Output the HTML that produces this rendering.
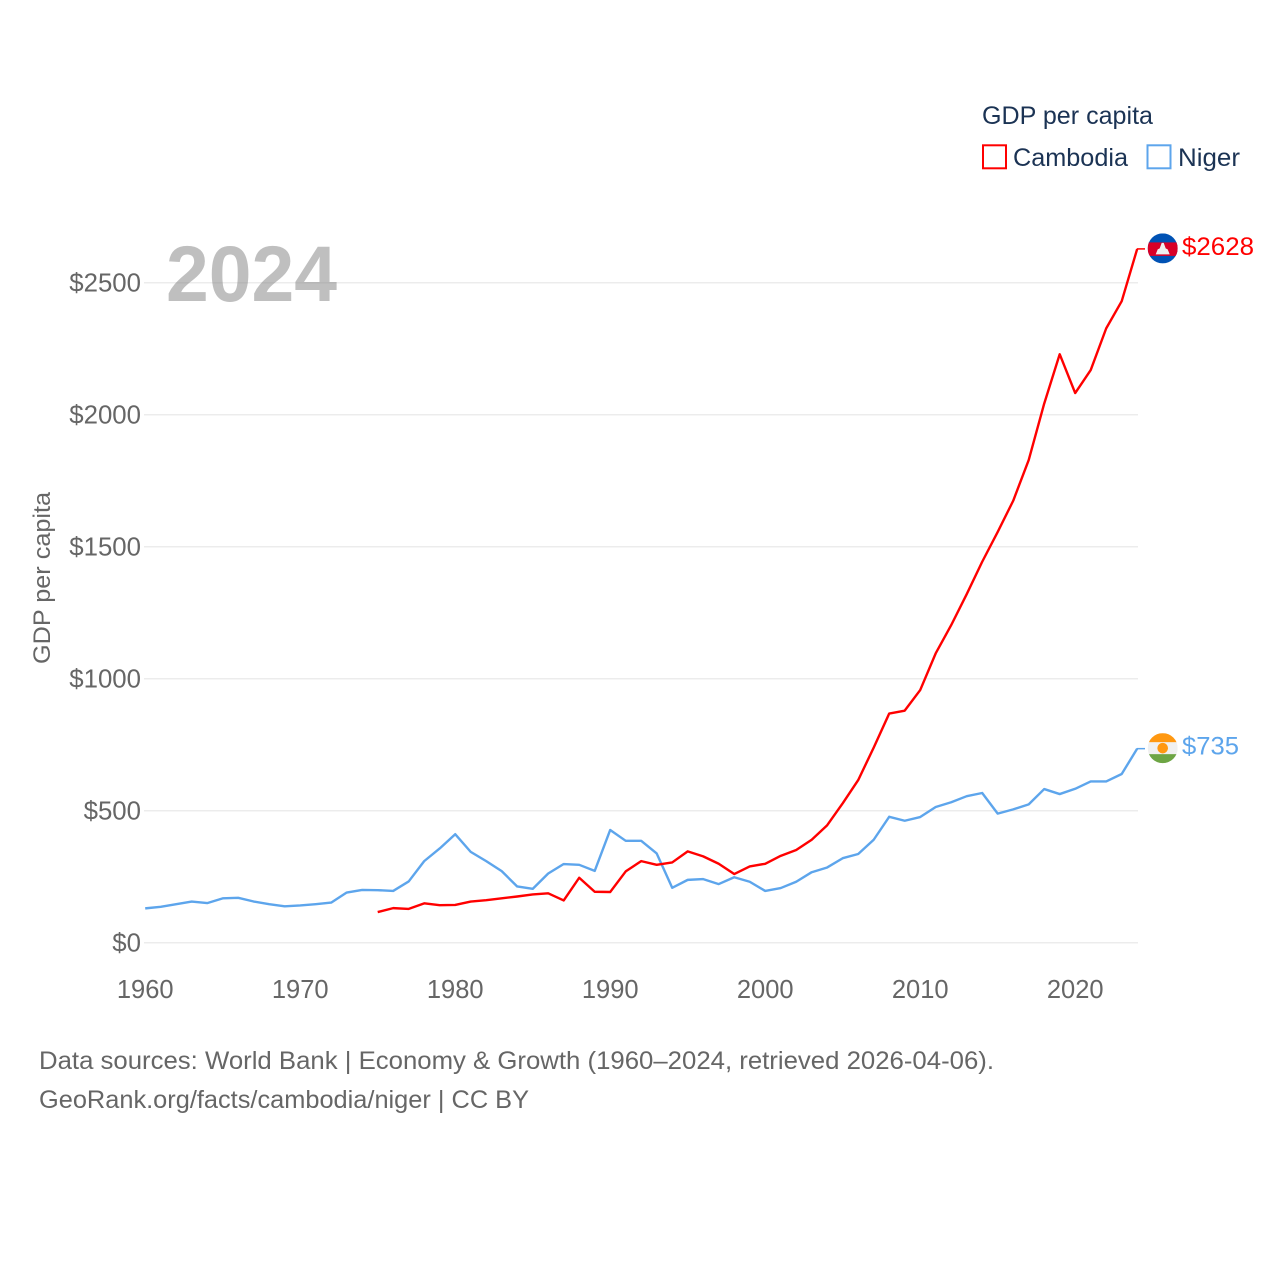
<!DOCTYPE html>
<html lang="en">
<head>
<meta charset="utf-8">
<title>GDP per capita: Cambodia and Niger</title>
<style>
html,body{margin:0;padding:0;background:#fff;}
svg{display:block;font-family:"Liberation Sans",sans-serif;}
</style>
</head>
<body>
<svg id="chart" xmlns="http://www.w3.org/2000/svg" width="1280" height="1280" viewBox="0 0 1280 1280">
  <g id="grid"></g>
  <text x="166" y="301" font-size="79" font-weight="bold" fill="#808080" fill-opacity="0.5" textLength="171" lengthAdjust="spacingAndGlyphs">2024</text>
  <g id="yticks"></g>
  <g id="xticks"></g>
  <text transform="translate(50,578) rotate(-90)" text-anchor="middle" font-size="24" fill="#666666" textLength="172" lengthAdjust="spacingAndGlyphs">GDP per capita</text>
  <g id="series"></g>

  <g>
    <text x="982" y="124" font-size="25" fill="#1b3354" textLength="171" lengthAdjust="spacingAndGlyphs">GDP per capita</text>
    <g>
      <rect x="983" y="145.3" width="23" height="23" fill="#fff" stroke="#ff0000" stroke-width="2"/>
      <text x="1013" y="166" font-size="25" fill="#1b3354" textLength="115" lengthAdjust="spacingAndGlyphs">Cambodia</text>
    </g>
    <g>
      <rect x="1147.5" y="145.3" width="23" height="23" fill="#fff" stroke="#5da5ec" stroke-width="2"/>
      <text x="1178" y="166" font-size="25" fill="#1b3354" textLength="62" lengthAdjust="spacingAndGlyphs">Niger</text>
    </g>
  </g>

  <defs>
    <clipPath id="flag-clip"><circle cx="0" cy="0" r="15"/></clipPath>
  </defs>

  <g id="flag-cambodia">
    <g clip-path="url(#flag-clip)">
      <rect x="-15" y="-15" width="30" height="30" fill="#0052b4"/>
      <rect x="-15" y="-6" width="30" height="13.5" fill="#d80027"/>
      <polygon points="-7,6 -5,1 -3,0 -1,-5.5 1,-5.5 3,0 5,1 7,6" fill="#f0f0f0"/>
    </g>
  </g>
  <g id="flag-niger">
    <g clip-path="url(#flag-clip)">
      <rect x="-15" y="-15" width="30" height="30" fill="#f0f0f0"/>
      <rect x="-15" y="-15" width="30" height="9" fill="#ff9811"/>
      <rect x="-15" y="6" width="30" height="9.5" fill="#6da544"/>
      <circle cx="0" cy="0" r="5.3" fill="#ff9811"/>
    </g>
  </g>
  <text id="end-cambodia" x="1182" font-size="25" fill="#ff0000" textLength="72" lengthAdjust="spacingAndGlyphs"></text>
  <text id="end-niger" x="1182" font-size="25" fill="#5da5ec" textLength="57" lengthAdjust="spacingAndGlyphs"></text>

  <g>
    <text x="39" y="1069" font-size="25" fill="#666666" textLength="955" lengthAdjust="spacingAndGlyphs">Data sources: World Bank | Economy &amp; Growth (1960–2024, retrieved 2026-04-06).</text>
    <text x="39" y="1108" font-size="25" fill="#666666" textLength="490" lengthAdjust="spacingAndGlyphs">GeoRank.org/facts/cambodia/niger | CC BY</text>
  </g>
</svg>

<script>
const nigerStartYear = 1960;
const cambodiaStartYear = 1975;
const nigerValues = [130,136,146,156,150,168,170,156,146,138,141,146,152,190,200,199,196,232,309,357,411,344,309,271,213,204,262,298,295,272,427,386,386,338,208,238,241,222,248,231,196,207,231,267,285,320,336,390,477,462,476,514,532,555,567,489,505,524,582,563,583,611,611,639,735];
const cambodiaValues = [116,131,128,149,142,143,156,161,168,175,183,187,160,246,193,192,270,309,295,304,346,327,299,260,289,299,329,351,390,445,528,616,739,868,879,957,1096,1203,1320,1443,1556,1674,1828,2042,2229,2082,2169,2327,2430,2628];
const xTickYears = [1960,1970,1980,1990,2000,2010,2020];
const yTickValues = [0,500,1000,1500,2000,2500];

const SVG_NS = 'http://www.w3.org/2000/svg';
function xScale(year){ return 145.2 + (year - 1960) * 15.5; }
function yScale(value){ return 942.7 - value * 660 / 2500; }
function make(tag, attrs){
  const el = document.createElementNS(SVG_NS, tag);
  for (const k in attrs) el.setAttribute(k, attrs[k]);
  return el;
}

const gridGroup = document.getElementById('grid');
const yTickGroup = document.getElementById('yticks');
yTickValues.forEach(function(v){
  const line = make('line', {x1:144, x2:1138, y1:yScale(v), y2:yScale(v), stroke:'#ececec', 'stroke-width':1.5});
  
  
  gridGroup.appendChild(line);
  const label = make('text', {x:141, y:yScale(v)+9, 'text-anchor':'end', 'font-size':25.8, fill:'#666666'});
  
  
  label.textContent = '$' + v;
  yTickGroup.appendChild(label);
});

const xTickGroup = document.getElementById('xticks');
xTickYears.forEach(function(year){
  const label = make('text', {x:xScale(year), y:998, 'text-anchor':'middle', 'font-size':25.5, fill:'#666666'});
  
  
  label.textContent = year;
  xTickGroup.appendChild(label);
});

function linePoints(values, startYear){
  return values.map(function(v, i){
    return xScale(startYear + i).toFixed(2) + ',' + yScale(v).toFixed(2);
  }).join(' ');
}

const seriesGroup = document.getElementById('series');

const nigerLine = make('polyline', {points:linePoints(nigerValues, nigerStartYear), fill:'none', stroke:'#5da5ec', 'stroke-width':2.4, 'stroke-linejoin':'round'});


seriesGroup.appendChild(nigerLine);

const cambodiaLine = make('polyline', {points:linePoints(cambodiaValues, cambodiaStartYear), fill:'none', stroke:'#ff0000', 'stroke-width':2.4, 'stroke-linejoin':'round'});


seriesGroup.appendChild(cambodiaLine);

const nigerLast = nigerValues[nigerValues.length - 1];
const cambodiaLast = cambodiaValues[cambodiaValues.length - 1];

const nigerLeader = make('line', {x1:1137, x2:1145, y1:yScale(nigerLast), y2:yScale(nigerLast), stroke:'#5da5ec', 'stroke-width':1.5});


seriesGroup.appendChild(nigerLeader);

const cambodiaLeader = make('line', {x1:1137, x2:1145, y1:yScale(cambodiaLast), y2:yScale(cambodiaLast), stroke:'#ff0000', 'stroke-width':1.5});


seriesGroup.appendChild(cambodiaLeader);

document.getElementById('flag-cambodia').setAttribute('transform', 'translate(1162.7,' + (yScale(cambodiaLast) - 0.5) + ')');
document.getElementById('flag-niger').setAttribute('transform', 'translate(1162.7,' + (yScale(nigerLast) - 0.5) + ')');

const endCambodia = document.getElementById('end-cambodia');
endCambodia.setAttribute('y', yScale(cambodiaLast) + 6);
endCambodia.textContent = '$' + cambodiaLast;
const endNiger = document.getElementById('end-niger');
endNiger.setAttribute('y', yScale(nigerLast) + 6);
endNiger.textContent = '$' + nigerLast;
</script>
</body>
</html>
